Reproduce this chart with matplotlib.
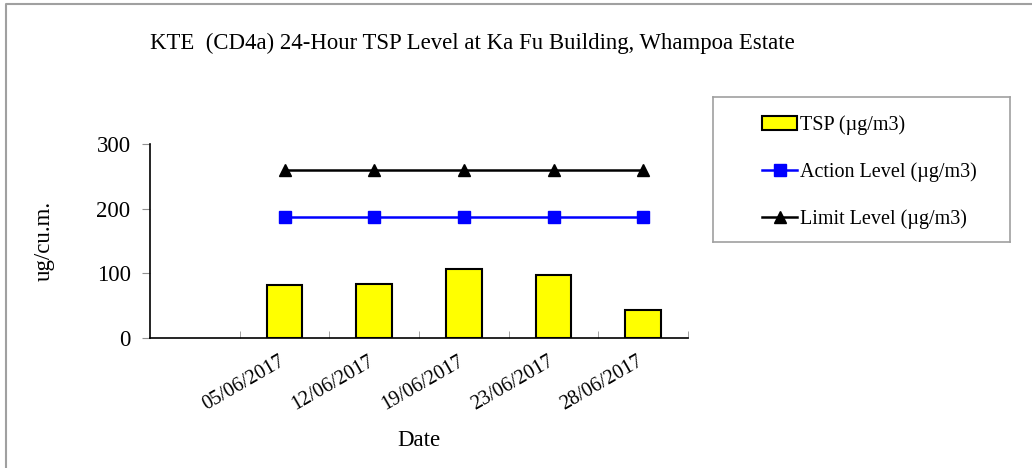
import numpy as np
import matplotlib
matplotlib.use("Agg")
import matplotlib.pyplot as plt
from matplotlib.lines import Line2D
from matplotlib.transforms import ScaledTranslation

plt.rcParams["font.family"] = ["Liberation Serif", "DejaVu Serif"]

# data (first category is empty)
dates = ["", "05/06/2017", "12/06/2017", "19/06/2017", "23/06/2017", "28/06/2017"]
tsp = [np.nan, 82, 84, 106, 98, 43]
action_level = [np.nan, 187, 187, 187, 187, 187]
limit_level = [np.nan, 260, 260, 260, 260, 260]

W, H = 1032, 468
fig = plt.figure(figsize=(W / 100, H / 100), dpi=100)

# outer grey border (only left and top show)
fig.lines.append(Line2D([6 / W, 6 / W, 1], [0, 1 - 4 / H, 1 - 4 / H], transform=fig.transFigure,
                        color="#a0a0a0", linewidth=1.5))

ax = fig.add_axes([150 / W, 1 - 338 / H, (688 - 150) / W, (338 - 144) / H])
x = np.arange(len(dates))

ax.bar(x, tsp, width=0.4, color="#ffff00", edgecolor="black", linewidth=1.5,
       label="TSP (µg/m3)", zorder=2)
ax.plot(x, action_level, color="#0000ff", marker="s", markersize=8, linewidth=1.8,
        label="Action Level (µg/m3)", zorder=3)
ax.plot(x, limit_level, color="black", marker="^", markersize=8, linewidth=1.8,
        label="Limit Level (µg/m3)", zorder=3)

ax.set_xlim(-0.5, len(dates) - 0.5)
ax.set_ylim(0, 300)
ax.set_yticks([0, 100, 200, 300])
ax.tick_params(axis="y", direction="out", length=6, color="#909090", labelsize=16.5, pad=8)

ax.set_xticks(x)
ax.set_xticklabels(dates, rotation=30, ha="right", rotation_mode="anchor", fontsize=14.5)
ax.set_xticks(np.arange(0.5, len(dates)), minor=True)
ax.tick_params(axis="x", which="major", length=0, pad=10)
ax.tick_params(axis="x", which="minor", direction="in", length=5, color="#909090")
shift = ScaledTranslation(-6 / 100, 0, fig.dpi_scale_trans)
for lab in ax.get_xticklabels():
    lab.set_transform(lab.get_transform() + shift)

for s in ["top", "right"]:
    ax.spines[s].set_visible(False)
ax.spines["left"].set_linewidth(1.2)
ax.spines["bottom"].set_linewidth(1.2)

ax.set_xlabel("Date", fontsize=16.5, labelpad=11)
ax.set_ylabel("ug/cu.m.", fontsize=16.5, labelpad=30)

fig.text(472 / W, 1 - 43 / H, "KTE  (CD4a) 24-Hour TSP Level at Ka Fu Building, Whampoa Estate",
         ha="center", va="center", fontsize=16.4)

# legend box
lax = fig.add_axes([713 / W, 1 - 242 / H, (1010 - 713) / W, (242 - 97) / H])
lax.set_xticks([])
lax.set_yticks([])
for s in lax.spines.values():
    s.set_edgecolor("#a0a0a0")
    s.set_linewidth(1.2)
h, l = ax.get_legend_handles_labels()
order = [2, 0, 1]
lax.legend([h[i] for i in order], [l[i] for i in order], loc="center left",
           bbox_to_anchor=(0.165, 0.48), frameon=False, borderpad=0, borderaxespad=0,
           fontsize=14.5, handlelength=1.75, handletextpad=0.15, labelspacing=1.35)

fig.savefig("out.png", dpi=100)
